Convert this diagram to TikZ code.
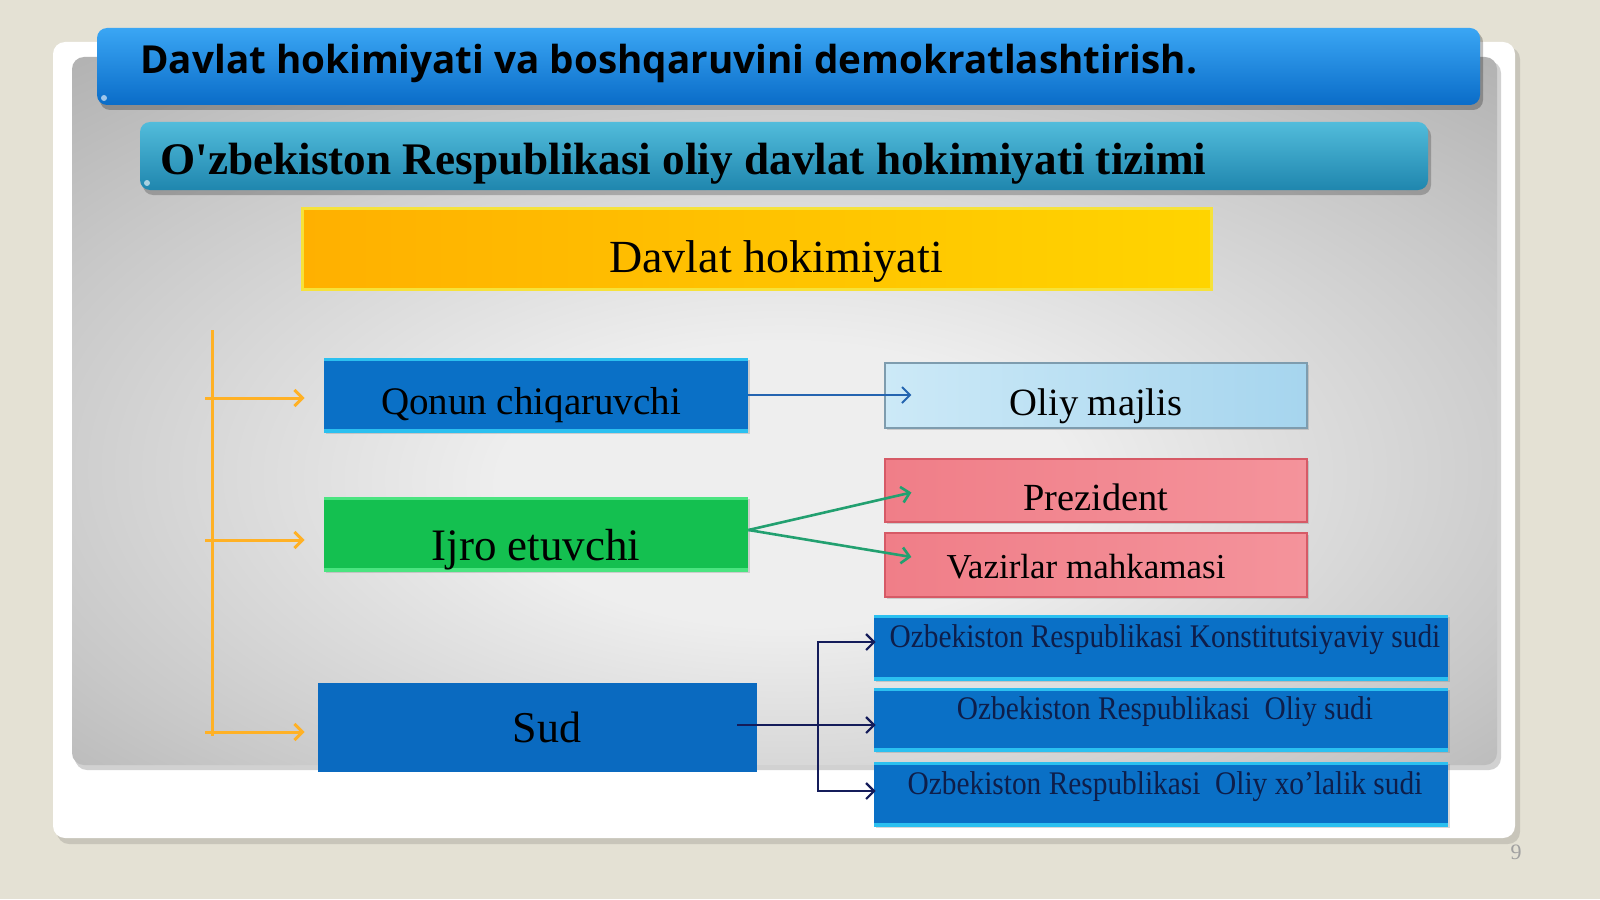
\documentclass[tikz,border=0pt]{standalone}
\usepackage{fontspec}
\setmainfont{Liberation Serif}
\newfontfamily\titlefont{Open Sans}
\usetikzlibrary{arrows.meta,shadows,calc}
\definecolor{bgbeige}{HTML}{E4E1D4}
\definecolor{pancenter}{HTML}{EEEEEE}
\definecolor{panmid}{HTML}{C8C8C8}
\definecolor{panedge}{HTML}{A3A3A3}
\definecolor{panfar}{HTML}{989898}
\definecolor{barblue}{HTML}{0B7FE0}
\definecolor{barbluetop}{HTML}{3AA6F4}
\definecolor{barbluebot}{HTML}{0A6CC8}
\definecolor{tealtop}{HTML}{52BCDB}
\definecolor{tealmid}{HTML}{2A9EC4}
\definecolor{tealbot}{HTML}{1F86AE}
\definecolor{yelL}{HTML}{FFB000}
\definecolor{yelR}{HTML}{FFD400}
\definecolor{yelB}{HTML}{F6E23A}
\definecolor{boxblue}{HTML}{0A70C6}
\definecolor{boxedge}{HTML}{2BC0F0}
\definecolor{sudblue}{HTML}{0A6AC0}
\definecolor{boxgreen}{HTML}{14C050}
\definecolor{greenedge}{HTML}{4AE480}
\definecolor{ltblueL}{HTML}{CCE9F7}
\definecolor{ltblueR}{HTML}{A6D5EE}
\definecolor{ltblueB}{HTML}{7E9CAE}
\definecolor{pinkL}{HTML}{F07E88}
\definecolor{pinkM}{HTML}{F7ACB2}
\definecolor{pinkR}{HTML}{F4939B}
\definecolor{pinkB}{HTML}{D65A66}
\definecolor{orng}{HTML}{FFB125}
\definecolor{arrblue}{HTML}{2464B0}
\definecolor{arrgreen}{HTML}{22A070}
\definecolor{navy}{HTML}{141C5A}
\definecolor{courttext}{HTML}{0E1E4A}
\definecolor{pagenum}{HTML}{A0A0A0}
\pgfdeclareradialshading{panelshade}{\pgfpoint{0bp}{-6bp}}{color(0bp)=(pancenter); color(10bp)=(pancenter); color(28bp)=(panmid); color(44bp)=(panedge); color(75bp)=(panfar)}
\begin{document}
\begin{tikzpicture}[x=0.5pt,y=-0.5pt,
  softshadow/.style={drop shadow={shadow xshift=1pt, shadow yshift=-1.2pt, opacity=0.3}},
  edgelines/.style={path picture={
      \draw[#1, line width=2.6pt] (path picture bounding box.north west) -- (path picture bounding box.north east);
      \draw[#1, line width=2.6pt] (path picture bounding box.south west) -- (path picture bounding box.south east);}},
  bluebox/.style={rectangle, fill=boxblue, edgelines=boxedge, softshadow, inner sep=0pt,
      font=\fontsize{19.5}{22}\selectfont, text=black},
  greenbox/.style={rectangle, fill=boxgreen, edgelines=greenedge, softshadow, inner sep=0pt,
      font=\fontsize{22.5}{26}\selectfont, text=black},
  sudbox/.style={rectangle, fill=sudblue, inner sep=0pt,
      font=\fontsize{22}{26}\selectfont, text=black},
  yelbox/.style={rectangle, left color=yelL, right color=yelR, draw=yelB, line width=1.5pt, inner sep=0pt,
      font=\fontsize{23}{26}\selectfont, text=black},
  lightbox/.style={rectangle, left color=ltblueL, right color=ltblueR, draw=ltblueB, line width=0.6pt, softshadow, inner sep=0pt,
      font=\fontsize{19.3}{22}\selectfont, text=black},
  pinkbox/.style={rectangle, left color=pinkL, middle color=pinkM, right color=pinkR, draw=pinkB, line width=0.6pt, softshadow, inner sep=0pt,
      font=\fontsize{19.2}{22}\selectfont, text=black},
  courtbox/.style={rectangle, fill=boxblue, edgelines=boxedge, softshadow, inner sep=0pt, minimum width=287pt,
      text height=8pt, text depth=8pt, font=\fontsize{16.5}{20}\selectfont, text=courttext},
  orline/.style={draw=orng, line width=1.5pt},
  orarrow/.style={draw=orng, line width=1.5pt, -{Straight Barb[length=4pt,width=8pt]}},
  bluearrow/.style={draw=arrblue, line width=1pt, -{Straight Barb[length=4pt,width=8pt]}},
  greenarrow/.style={draw=arrgreen, line width=1.3pt, -{Straight Barb[length=4pt,width=8pt]}},
  navyline/.style={draw=navy, line width=1.1pt},
  navyarrow/.style={draw=navy, line width=1.1pt, -{Straight Barb[length=4pt,width=8pt]}}
]
\useasboundingbox (0,0) rectangle (1600,899);
\fill[bgbeige] (0,0) rectangle (1600,899);
% outer white panel
\fill[black, opacity=0.12, rounded corners=6pt] (57,47) rectangle (1520,844);
\fill[white, rounded corners=6pt] (53,42) rectangle (1515,838);
% gray panel
\fill[black, opacity=0.18, rounded corners=6pt] (75,61) rectangle (1501,770);
\shade[shading=panelshade, rounded corners=6pt] (72,57) rectangle (1497,765);
% title bar
\fill[black, opacity=0.25, rounded corners=5pt] (100,32) rectangle (1483,110);
\shade[top color=barbluetop, middle color=barblue, bottom color=barbluebot, rounded corners=5pt] (97,28) rectangle (1480,105);
\fill[white, opacity=0.6] (104,98) circle (3);
\node[anchor=base west, inner sep=0pt, font=\titlefont\bfseries\fontsize{19.3}{22}\selectfont, text=black] (t1) at (140,74) {Davlat hokimiyati va boshqaruvini demokratlashtirish.};
% subtitle bar
\fill[black, opacity=0.22, rounded corners=5pt] (143,126) rectangle (1431,195);
\shade[top color=tealtop, middle color=tealmid, bottom color=tealbot, rounded corners=5pt] (140,122) rectangle (1428,190);
\fill[white, opacity=0.6] (147,183) circle (3);
\node[anchor=base west, inner sep=0pt, font=\bfseries\fontsize{22.6}{26}\selectfont, text=black] (t2) at (160,174) {O\textquotesingle zbekiston Respublikasi oliy davlat hokimiyati tizimi};
% main box
\node[yelbox, minimum width=454.5pt, minimum height=40.5pt, text height=23.5pt, text depth=0pt] (dh) at (756.5,248.5) {\hspace*{19.5pt}Davlat hokimiyati};
% left branches
\node[bluebox, minimum width=212pt, minimum height=37pt, text height=19pt, text depth=0pt] (q) at (536,395) {Qonun chiqaruvchi\hspace*{5pt}};
\node[greenbox, minimum width=212pt, minimum height=37pt, text height=26pt, text depth=0pt] (ij) at (536,534) {Ijro etuvchi};
\node[sudbox, minimum width=219.5pt, minimum height=44.5pt, text height=14.5pt, text depth=0pt] (sud) at (537.5,727.5) {\hspace*{9.5pt}Sud};
% right boxes
\node[lightbox, minimum width=211pt, minimum height=32.5pt, text height=19.5pt, text depth=0pt] (om) at (1096,395.5) {Oliy majlis};
\node[pinkbox, minimum width=211pt, minimum height=31.5pt, text height=19.5pt, text depth=0pt] (pr) at (1096,490.5) {Prezident};
\node[pinkbox, minimum width=211pt, minimum height=32pt, text height=13pt, text depth=0pt, font=\fontsize{17.5}{20}\selectfont] (vz) at (1096,565) {Vazirlar mahkamasi\hspace*{10pt}};
% courts
\node[courtbox, minimum height=32.5pt] (c1) at (1161,647.5) {\hspace*{4pt}\scalebox{0.89}[1]{Ozbekiston Respublikasi Konstitutsiyaviy sudi}};
\node[courtbox, minimum height=31.5pt] (c2) at (1161,719.5) {\hspace*{4pt}\scalebox{0.89}[1]{Ozbekiston Respublikasi~ Oliy sudi}};
\node[courtbox, minimum height=32pt] (c3) at (1161,794) {\hspace*{4pt}\scalebox{0.89}[1]{Ozbekiston Respublikasi~ Oliy xo’lalik sudi}};
% orange bracket
\coordinate (otop) at (212,330);
\coordinate (obot) at (212,736);
\draw[orline] (otop) -- (obot);
\draw[orarrow] ($(otop |- q.west)+(-7,3)$) -- ($(q.west)+(-19,3)$);
\draw[orarrow] ($(otop |- ij.west)+(-7,6)$) -- ($(ij.west)+(-19,6)$);
\draw[orarrow] ($(otop |- sud.west)+(-7,4.5)$) -- ($(sud.west)+(-13,4.5)$);
% connectors
\draw[bluearrow] (q.east) -- ($(q.east -| om.west)+(27,0)$);
\draw[greenarrow] ($(ij.east)+(0,-4)$) -- ($(pr.west)+(27,2)$);
\draw[greenarrow] ($(ij.east)+(0,-4)$) -- ($(vz.west)+(27,-8)$);
\coordinate (sj) at (818,725);
\draw[navyline] ($(sud.east)+(-20,-2.5)$) -- (sj);
\draw[navyarrow] (sj) -- ($(sj -| c2.west)+(2,0)$);
\draw[navyarrow] (sj) |- ($(c1.west)+(2,-5.5)$);
\draw[navyarrow] (sj) |- ($(c3.west)+(2,-3)$);
% page number
\node[font=\fontsize{11}{12}\selectfont, text=pagenum, inner sep=0pt] (pg) at (1516,852) {9};
\end{tikzpicture}
\end{document}
